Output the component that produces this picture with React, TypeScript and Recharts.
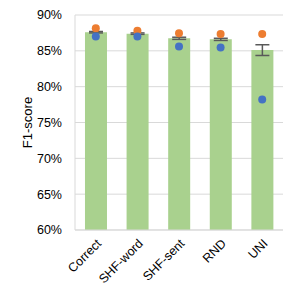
import { Bar, ComposedChart, ErrorBar, Line, CartesianGrid, XAxis, YAxis, Label } from "recharts"

const categories = ["Correct", "SHF-word", "SHF-sent", "RND", "UNI"]
const barValues = [87.6, 87.4, 86.75, 86.6, 85.1]
const barErrors = [0.1, 0.1, 0.15, 0.15, 0.75]
const orangeValues = [88.15, 87.8, 87.45, 87.35, 87.35]
const blueValues = [87.0, 87.0, 85.6, 85.45, 78.2]
const yTicks = [60, 65, 70, 75, 80, 85, 90]

const data = categories.map((name, i) => ({
  name,
  bar: barValues[i],
  err: barErrors[i],
  orange: orangeValues[i],
  blue: blueValues[i],
}))

const font = "'Liberation Sans', Arial, sans-serif"

export default function App() {
  return (
    <div style={{ position: "absolute", left: 0, top: 0, background: "#fff" }}>
      <ComposedChart
        width={299}
        height={299}
        data={data}
        margin={{ top: 15, right: 16, bottom: 0, left: 0 }}
        barCategoryGap="24%"
      >
        <CartesianGrid vertical={false} stroke="#d9d9d9" />
        <XAxis
          dataKey="name"
          height={69}
          tickLine={false}
          axisLine={{ stroke: "#d9d9d9" }}
          tick={{ angle: -45, textAnchor: "end", fontSize: 12.5, fontFamily: font, fill: "#000" }}
          tickMargin={4}
          tickSize={4}
          interval={0}
        />
        <YAxis
          width={75}
          domain={[60, 90]}
          ticks={yTicks}
          tickFormatter={(v) => `${v}%`}
          tickLine={false}
          tickSize={0}
          tickMargin={13}
          axisLine={{ stroke: "#d9d9d9" }}
          tick={{ fontSize: 12.5, fontFamily: font, fill: "#000" }}
        >
          <Label
            value="F1-score"
            angle={-90}
            position="insideLeft"
            offset={27}
            style={{ fontSize: 13, fontFamily: font, fill: "#000", textAnchor: "middle" }}
          />
        </YAxis>
        <Bar dataKey="bar" fill="#a9d18e" isAnimationActive={false}>
          <ErrorBar dataKey="err" width={7} stroke="#595959" strokeWidth={1.5} />
        </Bar>
        <Line
          dataKey="orange"
          stroke="none"
          dot={{ r: 4, fill: "#ed7d31", stroke: "none" }}
          activeDot={false}
          isAnimationActive={false}
        />
        <Line
          dataKey="blue"
          stroke="none"
          dot={{ r: 4, fill: "#4472c4", stroke: "none" }}
          activeDot={false}
          isAnimationActive={false}
        />
      </ComposedChart>
    </div>
  )
}
